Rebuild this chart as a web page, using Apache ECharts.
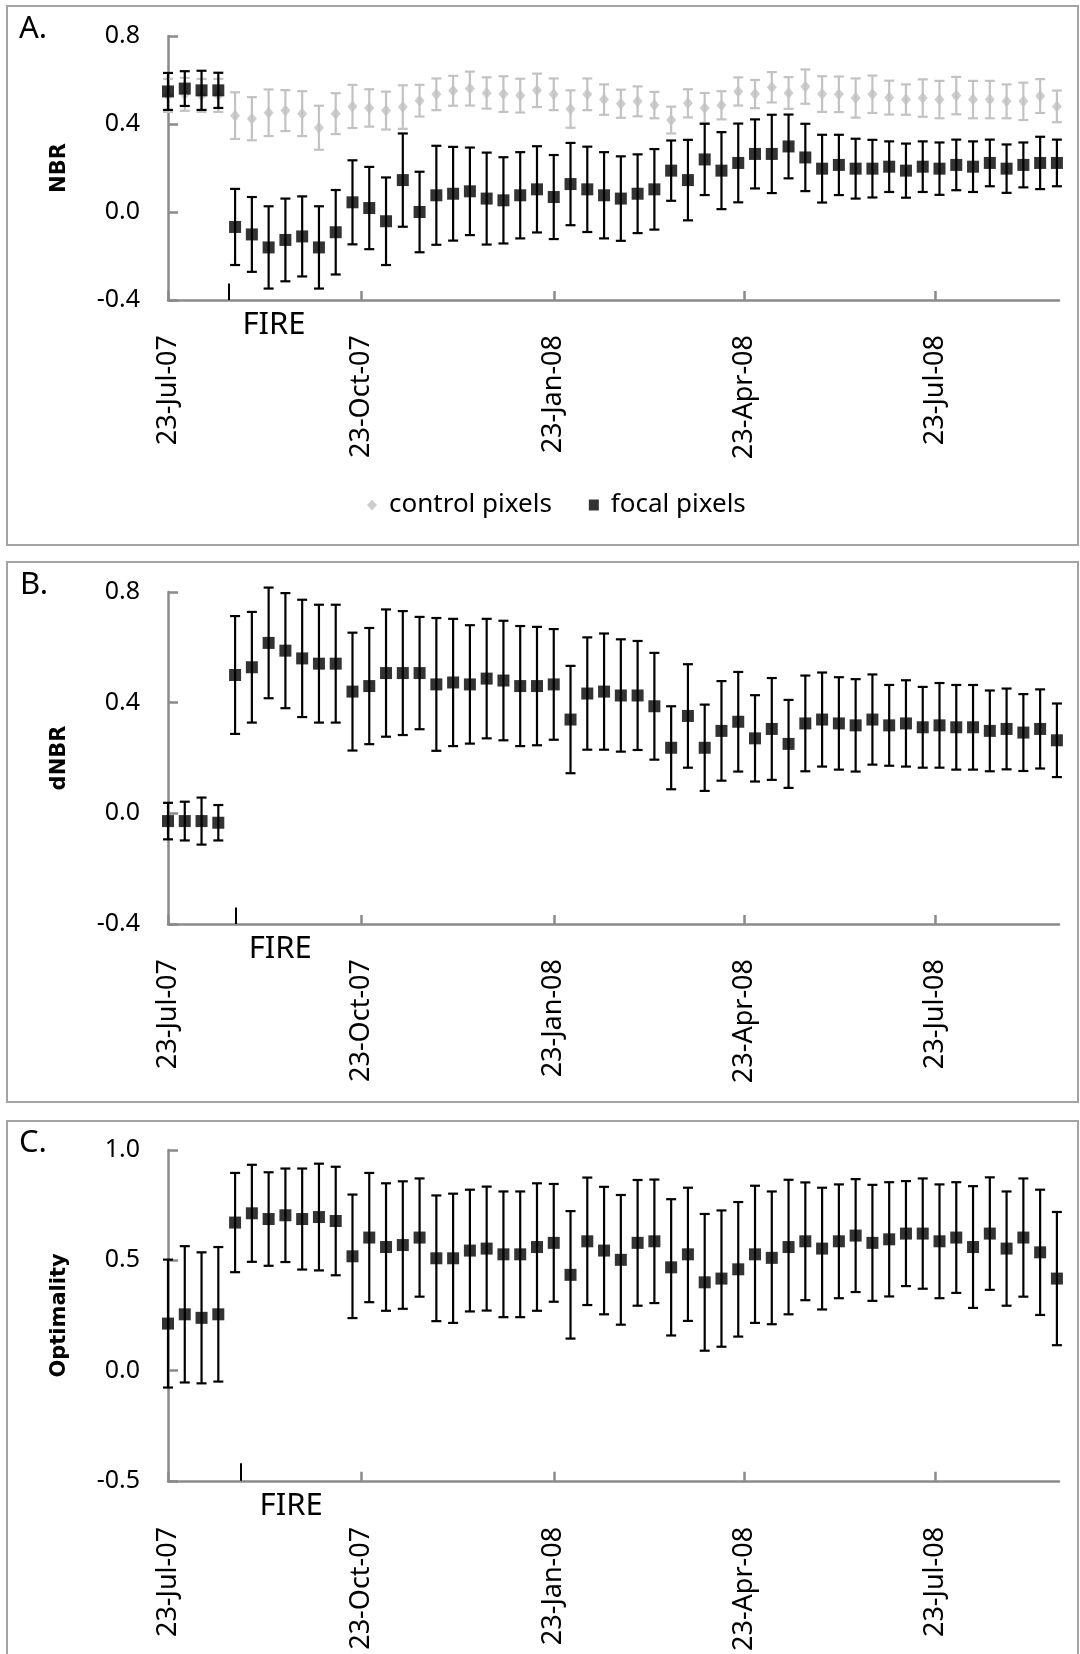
<!DOCTYPE html>
<html>
<head>
<meta charset="utf-8">
<script src="https://cdn.jsdelivr.net/npm/echarts@6/dist/echarts.min.js"></script>
<style>
  html, body { margin: 0; padding: 0; background: #fff; }
  #chart { width: 1080px; height: 1654px; }
</style>
</head>
<body>
<div id="chart"></div>
<script>
// 观测日期: 自 2007-07-23 起的天数 (8 天一景)
var days = [0, 8, 16, 24, 32, 40, 48, 56, 64, 72, 80, 88, 96, 104, 112, 120, 128, 136,
    144, 152, 160, 168, 176, 184, 192, 200, 208, 216, 224, 232, 240, 248, 256, 264,
    272, 280, 288, 296, 304, 312, 320, 328, 336, 344, 352, 360, 368, 376, 384, 392,
    400, 408, 416, 424];

// x 轴刻度
var tickDays = [0, 92, 184, 275, 366];
var tickLabels = ['23-Jul-07', '23-Oct-07', '23-Jan-08', '23-Apr-08', '23-Jul-08'];

// 火灾标记 (天数, 刻度线顶端数值)
var fireDays = [28.8, 32.3, 34.6];
var fireTops = [-0.325, -0.34, -0.42];

// A. NBR 焦点像元
var nbrFocal = [0.548, 0.561, 0.553, 0.553, -0.068, -0.102, -0.161, -0.127, -0.111, -0.161,
    -0.092, 0.044, 0.018, -0.042, 0.145, 0.000, 0.076, 0.083, 0.094, 0.061, 0.053, 0.076,
    0.103, 0.068, 0.127, 0.103, 0.076, 0.061, 0.083, 0.103, 0.188, 0.145, 0.239, 0.188,
    0.223, 0.264, 0.264, 0.298, 0.248, 0.197, 0.214, 0.197, 0.197, 0.206, 0.188, 0.206,
    0.197, 0.214, 0.206, 0.223, 0.197, 0.214, 0.223, 0.223];
var nbrFocalSd = [0.084, 0.079, 0.089, 0.080, 0.173, 0.170, 0.187, 0.188, 0.182, 0.187,
    0.192, 0.191, 0.187, 0.199, 0.212, 0.183, 0.225, 0.213, 0.199, 0.209, 0.196, 0.196,
    0.196, 0.191, 0.187, 0.194, 0.196, 0.192, 0.179, 0.183, 0.137, 0.183, 0.162, 0.175,
    0.179, 0.157, 0.178, 0.145, 0.153, 0.154, 0.137, 0.136, 0.131, 0.115, 0.123, 0.115,
    0.119, 0.115, 0.115, 0.106, 0.110, 0.102, 0.119, 0.106];

// A. NBR 对照像元
var nbrControl = [0.530, 0.535, 0.530, 0.530, 0.438, 0.424, 0.451, 0.461, 0.447, 0.383,
    0.447, 0.480, 0.473, 0.461, 0.477, 0.506, 0.535, 0.551, 0.561, 0.541, 0.536, 0.529,
    0.553, 0.535, 0.468, 0.535, 0.511, 0.492, 0.503, 0.486, 0.418, 0.494, 0.473, 0.485,
    0.548, 0.536, 0.567, 0.541, 0.570, 0.536, 0.535, 0.518, 0.535, 0.520, 0.511, 0.518,
    0.511, 0.529, 0.511, 0.511, 0.503, 0.503, 0.527, 0.480];
var nbrControlSd = [0.075, 0.075, 0.075, 0.075, 0.106, 0.098, 0.106, 0.093, 0.102, 0.100,
    0.093, 0.098, 0.085, 0.086, 0.099, 0.072, 0.072, 0.068, 0.077, 0.071, 0.081, 0.077,
    0.076, 0.072, 0.085, 0.072, 0.069, 0.064, 0.068, 0.060, 0.061, 0.064, 0.068, 0.064,
    0.064, 0.064, 0.069, 0.072, 0.078, 0.081, 0.081, 0.089, 0.085, 0.077, 0.069, 0.085,
    0.085, 0.085, 0.085, 0.085, 0.077, 0.085, 0.077, 0.072];

// B. dNBR
var dnbrFocal = [-0.028, -0.028, -0.028, -0.034, 0.500, 0.528, 0.616, 0.588, 0.560, 0.541,
    0.541, 0.440, 0.460, 0.507, 0.507, 0.507, 0.466, 0.473, 0.466, 0.487, 0.480, 0.460,
    0.460, 0.466, 0.339, 0.433, 0.440, 0.426, 0.426, 0.387, 0.237, 0.352, 0.237, 0.298,
    0.331, 0.271, 0.305, 0.251, 0.325, 0.339, 0.325, 0.318, 0.339, 0.318, 0.325, 0.311,
    0.318, 0.311, 0.311, 0.298, 0.305, 0.292, 0.305, 0.264];
var dnbrFocalSd = [0.066, 0.070, 0.085, 0.064, 0.213, 0.200, 0.200, 0.208, 0.212, 0.213,
    0.213, 0.213, 0.210, 0.230, 0.224, 0.203, 0.240, 0.230, 0.214, 0.216, 0.216, 0.217,
    0.214, 0.200, 0.194, 0.203, 0.210, 0.203, 0.197, 0.193, 0.150, 0.187, 0.156, 0.180,
    0.180, 0.156, 0.184, 0.159, 0.173, 0.170, 0.167, 0.167, 0.163, 0.146, 0.156, 0.146,
    0.153, 0.153, 0.153, 0.146, 0.146, 0.139, 0.143, 0.133];

// C. Optimality
var optFocal = [0.213, 0.255, 0.239, 0.255, 0.671, 0.713, 0.687, 0.704, 0.687, 0.696,
    0.678, 0.518, 0.603, 0.560, 0.569, 0.603, 0.509, 0.509, 0.544, 0.553, 0.527, 0.527,
    0.560, 0.579, 0.434, 0.586, 0.544, 0.502, 0.579, 0.586, 0.468, 0.527, 0.400, 0.417,
    0.459, 0.527, 0.511, 0.560, 0.586, 0.553, 0.586, 0.612, 0.579, 0.595, 0.621, 0.621,
    0.586, 0.603, 0.560, 0.621, 0.553, 0.603, 0.536, 0.417];
var optFocalSd = [0.290, 0.309, 0.297, 0.305, 0.225, 0.220, 0.212, 0.212, 0.229, 0.242,
    0.246, 0.280, 0.293, 0.289, 0.289, 0.268, 0.285, 0.293, 0.276, 0.281, 0.285, 0.285,
    0.289, 0.267, 0.289, 0.289, 0.289, 0.294, 0.285, 0.280, 0.309, 0.302, 0.310, 0.309,
    0.305, 0.311, 0.301, 0.305, 0.267, 0.276, 0.258, 0.256, 0.263, 0.259, 0.238, 0.250,
    0.258, 0.251, 0.276, 0.255, 0.259, 0.268, 0.284, 0.302];

var FONT = 'Noto Sans';
var AXIS_GREY = '#8a8a8a';
var CONTROL_GREY = '#c2c2c2';
var FIRE_PAD = [14, 13, 19]; // FIRE 文字与刻度线的间距

var chart = echarts.init(document.getElementById('chart'));

/**
 * 拼接散点数据
 */
function pointData(mean) {
    var out = [];
    for (var i = 0; i < days.length; i++) {
        out.push([days[i], mean[i]]);
    }
    return out;
}

/**
 * 拼接误差线数据
 */
function barData(mean, sd) {
    var out = [];
    for (var i = 0; i < days.length; i++) {
        out.push([days[i], mean[i], sd[i]]);
    }
    return out;
}

/**
 * 误差线绘制
 */
function errorBar(color) {
    return function(params, api) {
        var x = api.value(0);
        var m = api.value(1);
        var s = api.value(2);
        var hi = api.coord([x, m + s]);
        var lo = api.coord([x, m - s]);
        var w = 5;
        var style = { stroke: color, lineWidth: 2.2 };
        return {
            type: 'group',
            children: [
                { type: 'line', shape: { x1: hi[0], y1: hi[1], x2: lo[0], y2: lo[1] }, style: style },
                { type: 'line', shape: { x1: hi[0] - w, y1: hi[1], x2: hi[0] + w, y2: hi[1] }, style: style },
                { type: 'line', shape: { x1: lo[0] - w, y1: lo[1], x2: lo[0] + w, y2: lo[1] }, style: style }
            ]
        };
    };
}

function xAxisFor(idx, margin) {
    return {
        type: 'value',
        gridIndex: idx,
        min: 0,
        max: 425,
        splitLine: { show: false },
        axisLine: { onZero: false, lineStyle: { color: AXIS_GREY, width: 2.5 } },
        axisTick: { customValues: tickDays, inside: true, length: 9, lineStyle: { color: AXIS_GREY, width: 2.5 } },
        axisLabel: {
            customValues: tickDays,
            rotate: 90,
            margin: margin,
            padding: [12, 0, 0, 0],
            color: '#000',
            fontFamily: FONT,
            fontSize: 27,
            formatter: function(v) {
                var i = tickDays.indexOf(v);
                return i >= 0 ? tickLabels[i] : '';
            }
        }
    };
}

function yAxisFor(idx, name, min, max, interval) {
    return {
        type: 'value',
        gridIndex: idx,
        min: min,
        max: max,
        interval: interval,
        name: name,
        nameLocation: 'middle',
        nameRotate: 90,
        nameGap: 98,
        nameTextStyle: { fontFamily: 'DejaVu Sans', fontWeight: 'bold', fontSize: 21, color: '#000' },
        splitLine: { show: false },
        axisLine: { show: true, onZero: false, lineStyle: { color: AXIS_GREY, width: 2.5 } },
        axisTick: { show: true, inside: true, length: 10, lineStyle: { color: AXIS_GREY, width: 2.5 } },
        axisLabel: {
            margin: 28,
            color: '#000',
            fontFamily: FONT,
            fontSize: 25,
            formatter: function(v) { return v.toFixed(1); }
        }
    };
}

function fireLine(k, yMin) {
    return {
        symbol: 'none',
        silent: true,
        animation: false,
        lineStyle: { color: '#000', width: 2, type: 'solid' },
        label: {
            show: true,
            position: 'start',
            formatter: 'FIRE',
            align: 'left',
            distance: 10,
            padding: [0, 0, 0, FIRE_PAD[k]],
            color: '#000',
            fontFamily: FONT,
            fontSize: 31
        },
        data: [[{ coord: [fireDays[k], yMin] }, { coord: [fireDays[k], fireTops[k]] }]]
    };
}

function squares(name, idx, mean, k, yMin) {
    return {
        name: name,
        type: 'scatter',
        xAxisIndex: idx,
        yAxisIndex: idx,
        symbol: 'rect',
        symbolSize: 12,
        itemStyle: { color: '#000' },
        z: 5,
        data: pointData(mean),
        markLine: fireLine(k, yMin)
    };
}

function bars(idx, mean, sd, color, z) {
    return {
        type: 'custom',
        xAxisIndex: idx,
        yAxisIndex: idx,
        renderItem: errorBar(color),
        z: z,
        data: barData(mean, sd)
    };
}

var option = {
    animation: false,
    backgroundColor: '#fff',
    graphic: [
        { type: 'rect', shape: { x: 7, y: 6, width: 1071, height: 539 }, style: { fill: 'none', stroke: '#a3a3a3', lineWidth: 2 } },
        { type: 'rect', shape: { x: 7, y: 562, width: 1071, height: 540 }, style: { fill: 'none', stroke: '#a3a3a3', lineWidth: 2 } },
        { type: 'rect', shape: { x: 7, y: 1121, width: 1071, height: 600 }, style: { fill: 'none', stroke: '#a3a3a3', lineWidth: 2 } },
        { type: 'text', left: 19, top: 14, style: { text: 'A.', font: '31px "Noto Sans"', fill: '#000' } },
        { type: 'text', left: 20, top: 570, style: { text: 'B.', font: '31px "Noto Sans"', fill: '#000' } },
        { type: 'text', left: 19, top: 1128, style: { text: 'C.', font: '31px "Noto Sans"', fill: '#000' } }
    ],
    legend: {
        left: 362,
        top: 487,
        itemWidth: 10,
        itemHeight: 11,
        itemGap: 37,
        textStyle: { fontFamily: FONT, fontSize: 26, color: '#000', padding: [0, 0, 0, 7] },
        data: [
            { name: 'control pixels', icon: 'diamond', itemStyle: { color: CONTROL_GREY } },
            { name: 'focal pixels', icon: 'rect', itemStyle: { color: '#000' } }
        ]
    },
    grid: [
        { left: 168, right: 21, top: 36, height: 264 },
        { left: 168, right: 21, top: 592, height: 332 },
        { left: 168, right: 21, top: 1150, height: 332 }
    ],
    xAxis: [xAxisFor(0, 35), xAxisFor(1, 35), xAxisFor(2, 46)],
    yAxis: [
        yAxisFor(0, 'NBR', -0.4, 0.8, 0.4),
        yAxisFor(1, 'dNBR', -0.4, 0.8, 0.4),
        yAxisFor(2, 'Optimality', -0.5, 1.0, 0.5)
    ],
    series: [
        bars(0, nbrControl, nbrControlSd, CONTROL_GREY, 1),
        {
            name: 'control pixels',
            type: 'scatter',
            xAxisIndex: 0,
            yAxisIndex: 0,
            symbol: 'diamond',
            symbolSize: [10, 12],
            itemStyle: { color: CONTROL_GREY },
            z: 2,
            data: pointData(nbrControl)
        },
        bars(0, nbrFocal, nbrFocalSd, '#000', 3),
        squares('focal pixels', 0, nbrFocal, 0, -0.4),
        bars(1, dnbrFocal, dnbrFocalSd, '#000', 3),
        squares('focal dNBR', 1, dnbrFocal, 1, -0.4),
        bars(2, optFocal, optFocalSd, '#000', 3),
        squares('focal optimality', 2, optFocal, 2, -0.5)
    ]
};

chart.setOption(option);
</script>
</body>
</html>
